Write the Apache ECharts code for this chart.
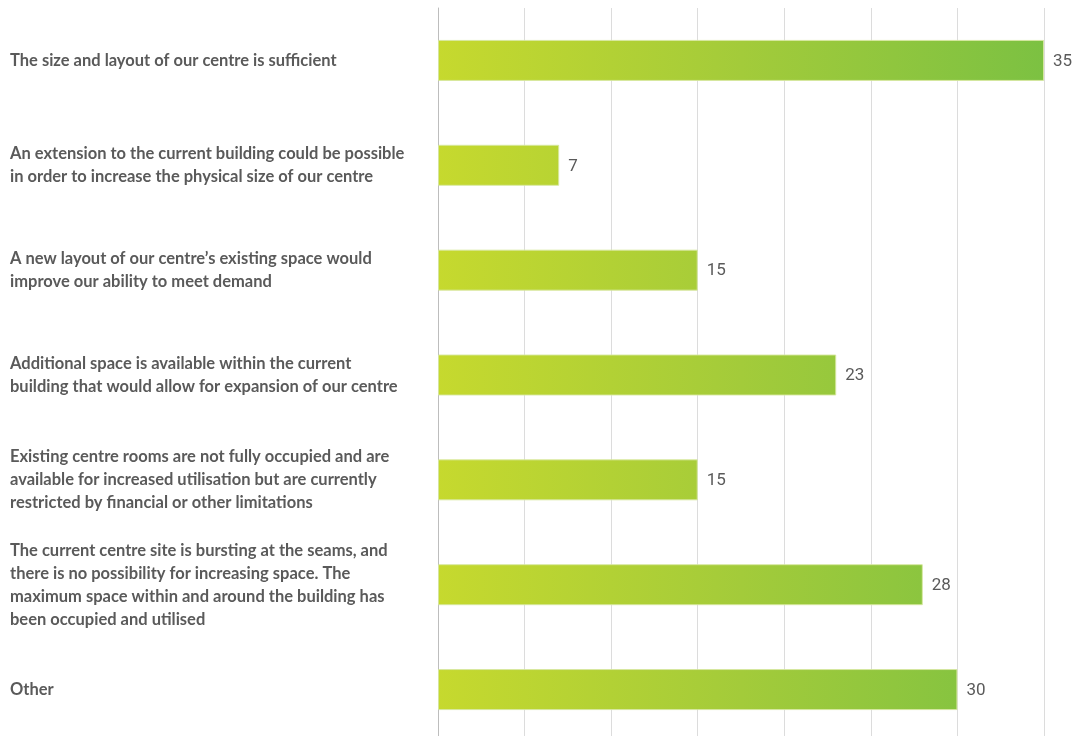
<!DOCTYPE html>
<html>
<head>
<meta charset="utf-8">
<script src="https://cdn.jsdelivr.net/npm/echarts@6/dist/echarts.min.js"></script>
<style>
html,body{margin:0;padding:0;background:#fff;overflow:hidden;width:1075px;height:736px;}
#c{width:1075px;height:750px;}
</style>
</head>
<body>
<div id="c"></div>
<script>
const categories = [
  "The size and layout of our centre is sufficient",
  "An extension to the current building could be possible\nin order to increase the physical size of our centre",
  "A new layout of our centre\u2019s existing space would\nimprove our ability to meet demand",
  "Additional space is available within the current\nbuilding that would allow for expansion of our centre",
  "Existing centre rooms are not fully occupied and are\navailable for increased utilisation but are currently\nrestricted by financial or other limitations",
  "The current centre site is bursting at the seams, and\nthere is no possibility for increasing space. The\nmaximum space within and around the building has\nbeen occupied and utilised",
  "Other"
];
const values = [35, 7, 15, 23, 15, 28, 30];
const xTicks = [0, 5, 10, 15, 20, 25, 30, 35];

const gridLeft = 438, gridRight = 31;
const chart = echarts.init(document.getElementById('c'));
const W = chart.getWidth();
chart.setOption({
  animation: false,
  grid: { left: gridLeft, right: gridRight, top: 8, height: 734, containLabel: false },
  xAxis: {
    type: 'value', min: xTicks[0], max: xTicks[xTicks.length - 1], interval: 5,
    axisLabel: { show: false },
    axisLine: { show: false },
    axisTick: { show: false },
    splitLine: { show: true, lineStyle: { color: '#dcdcdc', width: 1 } }
  },
  yAxis: {
    type: 'category', data: categories, inverse: true,
    axisLine: { show: true, lineStyle: { color: '#bdbdbd', width: 1 } },
    axisTick: { show: false },
    axisLabel: {
      align: 'left', margin: 428,
      color: '#5a5a5a', fontFamily: 'Lato', fontWeight: 'bold', fontSize: 16.5, lineHeight: 23
    }
  },
  series: [{
    type: 'bar', data: values, barWidth: 41,
    itemStyle: {
      color: new echarts.graphic.LinearGradient(gridLeft, 0, W - gridRight, 0, [
        { offset: 0, color: '#c6d92e' },
        { offset: 0.5, color: '#a3cb3a' },
        { offset: 1, color: '#7cc142' }
      ], true),
      borderColor: 'rgba(215,232,160,0.9)', borderWidth: 1
    },
    label: {
      show: true, position: 'right', distance: 9, offset: [0, 1],
      color: '#5a5a5a', fontFamily: 'Liberation Sans Narrow, Roboto', fontSize: 17
    }
  }]
});
</script>
</body>
</html>
